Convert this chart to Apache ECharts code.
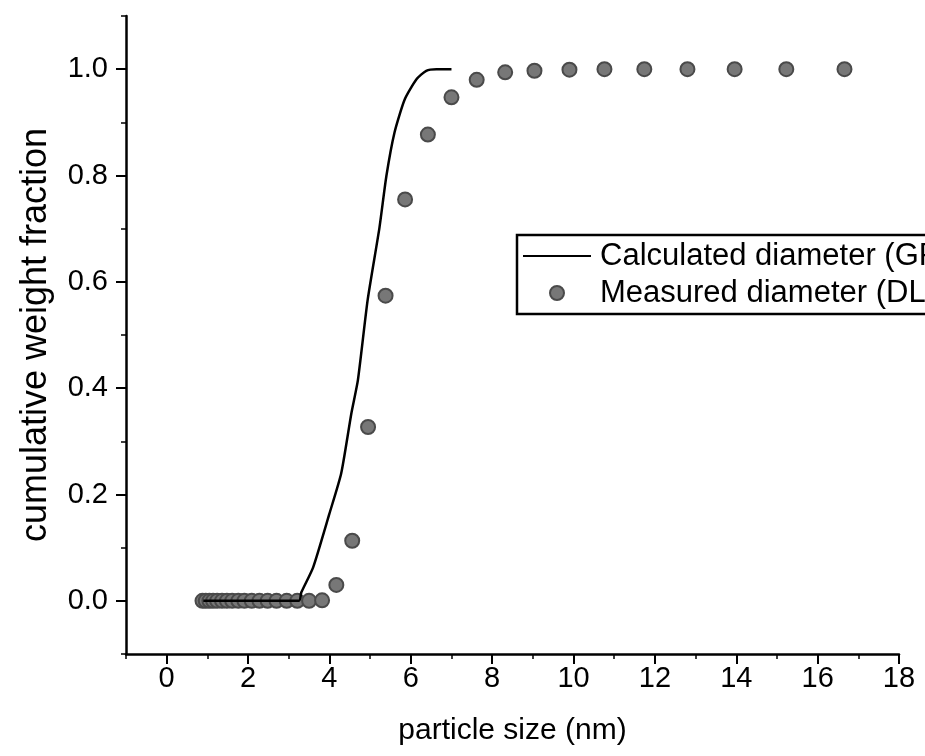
<!DOCTYPE html>
<html>
<head>
<meta charset="utf-8">
<script src="https://cdn.jsdelivr.net/npm/echarts@6/dist/echarts.min.js"></script>
<style>
  html, body { margin: 0; padding: 0; background: #fff; }
  #chart { width: 925px; height: 756px; }
</style>
</head>
<body>
<div id="chart"></div>
<script>
// measured points (DLS) - x in nm, y cumulative weight fraction
var measuredX = [0.88, 0.96, 1.05, 1.14, 1.24, 1.36, 1.48, 1.61, 1.76, 1.91, 2.09, 2.28, 2.48, 2.70, 2.95, 3.21, 3.50, 3.82,
    4.17, 4.56, 4.95, 5.38, 5.86, 6.42, 7.00, 7.62, 8.32, 9.04, 9.90, 10.76, 11.74, 12.80, 13.96, 15.23, 16.66];
var measuredY = [0, 0, 0, 0, 0, 0, 0, 0, 0, 0, 0, 0, 0, 0, 0, 0, 0, 0.001,
    0.030, 0.113, 0.327, 0.574, 0.755, 0.877, 0.947, 0.980, 0.994, 0.997, 0.999, 1.0, 1.0, 1.0, 1.0, 1.0, 1.0];

// calculated curve (GPC)
var calcX = [0.9, 3.25, 3.31, 3.60, 4.00, 4.29, 4.54, 4.70, 4.94, 5.23, 5.40, 5.60, 5.85, 6.14, 6.38, 6.63, 7.00];
var calcY = [0, 0, 0.016, 0.063, 0.164, 0.240, 0.353, 0.415, 0.566, 0.702, 0.799, 0.881, 0.943, 0.981, 0.997, 1.0, 1.0];

var xLabels = [0, 2, 4, 6, 8, 10, 12, 14, 16, 18];
var xMinor = [-1, 1, 3, 5, 7, 9, 11, 13, 15, 17];
var yLabels = [0, 0.2, 0.4, 0.6, 0.8, 1.0];
var yMinor = [-0.1, 0.1, 0.3, 0.5, 0.7, 0.9, 1.1];

var seriesNames = ['Calculated diameter (GPC)', 'Measured diameter (DLS)'];

function pairs(xs, ys) {
    return xs.map(function (x, i) { return [x, ys[i]]; });
}

var font = 'Liberation Sans';
var chart = echarts.init(document.getElementById('chart'));

var option = {
    animation: false,
    backgroundColor: '#fff',
    grid: { left: 126, right: 26, top: 16, bottom: 102 },
    legend: {
        orient: 'vertical',
        left: 517,
        top: 235,
        padding: [4, 5, 4, 5],
        itemGap: 3,
        itemWidth: 68,
        itemHeight: 14,
        borderColor: '#000',
        borderWidth: 2.5,
        textStyle: { fontFamily: font, fontSize: 31, color: '#000', lineHeight: 34, padding: [0, 0, 0, 4] },
        data: [
            { name: seriesNames[0], itemStyle: { opacity: 0 } },
            { name: seriesNames[1] }
        ]
    },
    xAxis: [{
        type: 'value',
        min: -1,
        max: 18,
        position: 'bottom',
        name: 'particle size (nm)',
        nameLocation: 'middle',
        nameGap: 62,
        nameTextStyle: { fontFamily: font, fontSize: 30, color: '#000' },
        splitLine: { show: false },
        axisLine: { onZero: false, lineStyle: { color: '#000', width: 2.5 } },
        axisTick: { length: 10, customValues: xLabels, lineStyle: { color: '#000', width: 2 } },
        axisLabel: { customValues: xLabels, margin: 10, fontFamily: font, fontSize: 29, color: '#000' }
    }, {
        type: 'value',
        min: -1,
        max: 18,
        position: 'bottom',
        splitLine: { show: false },
        axisLine: { show: false, onZero: false },
        axisTick: { length: 5, customValues: xMinor, lineStyle: { color: '#000', width: 1.5 } },
        axisLabel: { show: false }
    }],
    yAxis: [{
        type: 'value',
        min: -0.1,
        max: 1.1,
        position: 'left',
        name: 'cumulative weight fraction',
        nameLocation: 'middle',
        nameGap: 72,
        nameTextStyle: { fontFamily: font, fontSize: 36, color: '#000' },
        splitLine: { show: false },
        axisLine: { onZero: false, lineStyle: { color: '#000', width: 2.5 } },
        axisTick: { length: 10, customValues: yLabels, lineStyle: { color: '#000', width: 2 } },
        axisLabel: {
            customValues: yLabels,
            margin: 18,
            fontFamily: font,
            fontSize: 29,
            color: '#000',
            formatter: function (v) { return v.toFixed(1); }
        }
    }, {
        type: 'value',
        min: -0.1,
        max: 1.1,
        position: 'left',
        splitLine: { show: false },
        axisLine: { show: false, onZero: false },
        axisTick: { length: 5, customValues: yMinor, lineStyle: { color: '#000', width: 1.5 } },
        axisLabel: { show: false }
    }],
    series: [{
        name: seriesNames[0],
        type: 'line',
        xAxisIndex: 0,
        yAxisIndex: 0,
        symbol: 'none',
        smooth: 0.2,
        lineStyle: { color: '#000', width: 2.5 },
        itemStyle: { color: '#000' },
        data: pairs(calcX, calcY)
    }, {
        name: seriesNames[1],
        type: 'scatter',
        xAxisIndex: 0,
        yAxisIndex: 0,
        symbol: 'circle',
        symbolSize: 14,
        itemStyle: { color: '#777777', borderColor: '#4a4a4a', borderWidth: 2, opacity: 1 },
        data: pairs(measuredX, measuredY)
    }]
};
chart.setOption(option);
</script>
</body>
</html>
